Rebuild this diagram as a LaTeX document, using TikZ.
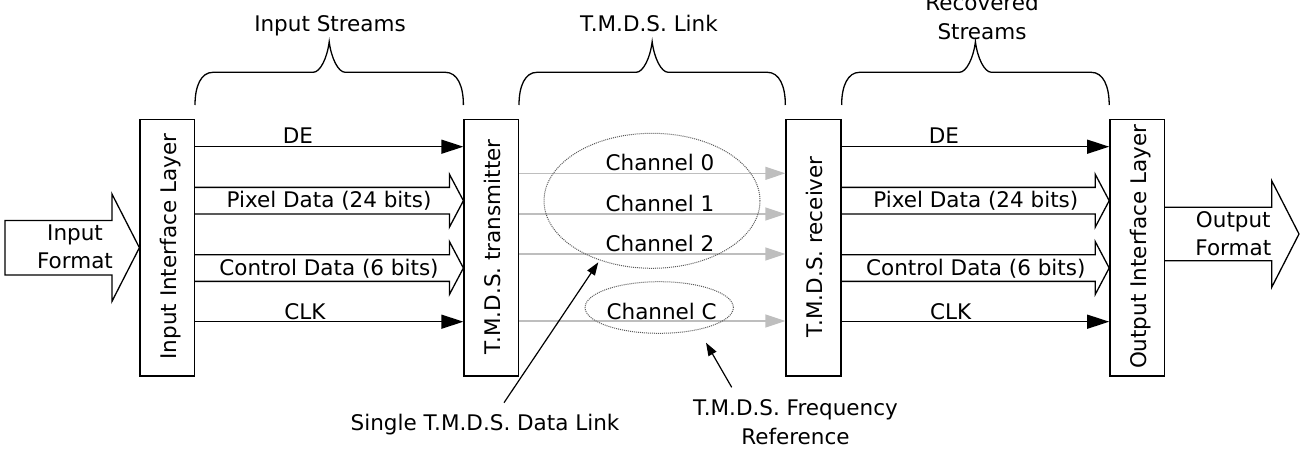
\documentclass[tikz,border=0pt]{standalone}
\usepackage{fontspec}
\setmainfont{DejaVu Sans}
\usetikzlibrary{arrows.meta,calc,shapes.geometric}
\definecolor{chgray}{RGB}{190,190,190}
\definecolor{ellgray}{RGB}{90,90,90}
\newcommand\fatarr[2]{%
  \draw[fatline] ($(#1)+(0,-13.35)$) -- ($(#2)+(-14,-13.35)$) -- ($(#2)+(-14,-26.5)$) -- (#2)
    -- ($(#2)+(-14,26.5)$) -- ($(#2)+(-14,13.35)$) -- ($(#1)+(0,13.35)$);}
\newcommand\bracebetween[2]{%
  \coordinate (bm) at ($(#1)!0.5!(#2)$);
  \draw[braceline] (#1) .. controls ($(#1)+(0,-19)$) and ($(#1)+(6,-32.7)$) .. ($(#1)+(18,-32.7)$)
    -- ($(bm)+(-16,-32.7)$) .. controls ($(bm)+(-9,-32.7)$) and ($(bm)+(-2,-47)$) .. ($(bm)+(0,-63.3)$)
    .. controls ($(bm)+(2,-47)$) and ($(bm)+(9,-32.7)$) .. ($(bm)+(16,-32.7)$)
    -- ($(#2)+(-18,-32.7)$) .. controls ($(#2)+(-6,-32.7)$) and ($(#2)+(0,-19)$) .. (#2);}
\begin{document}
\begin{tikzpicture}[x=1pt,y=-1pt,
  font=\fontsize{21.5}{28.5}\selectfont,
  layerbox/.style={draw, line width=1.3pt, minimum width=54.3pt, minimum height=256.7pt, inner sep=0pt},
  vtext/.style={rotate=90, anchor=base, inner sep=0pt},
  lbl/.style={inner sep=0pt, anchor=base},
  mlbl/.style={inner sep=0pt, align=center},
  dataarr/.style={line width=1.3pt, -{Triangle[length=22pt,width=14pt]}},
  chanarr/.style={line width=1.3pt, chgray, -{Triangle[length=20pt,width=13pt]}},
  fatline/.style={line width=1.3pt, line join=miter},
  braceline/.style={line width=1.3pt},
  ell/.style={ellipse, draw=ellgray, line width=1pt, dash pattern=on 1pt off 1pt, inner sep=0pt},
  notearr/.style={line width=1.2pt, -{Triangle[length=13pt,width=9pt]}}
]
\useasboundingbox (0,0) rectangle (1302,458);
\clip (0,0) rectangle (1302,458);

% layer boxes
\node[layerbox] (inL) at (167.2,247.7) {};
\node[layerbox] (tx) at (491.2,247.7) {};
\node[layerbox, minimum width=55pt] (rx) at (813.5,247.7) {};
\node[layerbox] (outL) at (1137,247.7) {};
\node[vtext] (inLt) at ($(inL.center)+(9,-1)$) {Input Interface Layer};
\node[vtext] (txt) at ($(tx.center)+(9,-1)$) {T.M.D.S. transmitter};
\node[vtext] (rxt) at ($(rx.center)+(9,-1)$) {T.M.D.S. receiver};
\node[vtext] (outLt) at ($(outL.center)+(9,-1)$) {Output Interface Layer};

% input format arrow
\coordinate (infL) at (5,247.7);
\draw[fatline] ($(infL)+(0,-27.2)$) -- ($(inL.west)+(-27.5,-27.2)$) -- ($(inL.west)+(-27.5,-53.8)$)
  -- (inL.west) -- ($(inL.west)+(-27.5,53.8)$) -- ($(inL.west)+(-27.5,27.2)$) -- ($(infL)+(0,27.2)$) -- cycle;
\node[mlbl] (inF) at (75,246.8) {Input\\Format};

% output format arrow
\coordinate (outTip) at (1299,234);
\draw[fatline] (outL.east |- 0,207.2) -- ($(outTip)+(-27.3,-26.8)$) -- ($(outTip)+(-27.3,-53.3)$)
  -- (outTip) -- ($(outTip)+(-27.3,53.3)$) -- ($(outTip)+(-27.3,26.8)$) -- (outL.east |- 0,260.8);
\node[mlbl] (outF) at (1233.3,233.8) {Output\\Format};

% input streams
\draw[dataarr] (inL.east |- 0,146.7) -- (tx.west |- 0,146.7);
\node[lbl] (de1) at (298,143.3) {DE};
\coordinate (px1a) at (inL.east |- 0,200.7);
\coordinate (px1b) at (tx.west |- 0,200.7);
\fatarr{px1a}{px1b}
\node[lbl] (px1) at (329,207.3) {Pixel Data (24 bits)};
\coordinate (cd1a) at (inL.east |- 0,268);
\coordinate (cd1b) at (tx.west |- 0,268);
\fatarr{cd1a}{cd1b}
\node[lbl] (cd1) at (329,275.7) {Control Data (6 bits)};
\draw[dataarr] (inL.east |- 0,321.7) -- (tx.west |- 0,321.7);
\node[lbl] (clk1) at (305,319) {CLK};

% TMDS channels
\draw[chanarr] (tx.east |- 0,173.3) -- (rx.west |- 0,173.3);
\draw[chanarr] (tx.east |- 0,214) -- (rx.west |- 0,214);
\draw[chanarr] (tx.east |- 0,254) -- (rx.west |- 0,254);
\draw[chanarr] (tx.east |- 0,321) -- (rx.west |- 0,321);
\node[ell, minimum width=216pt, minimum height=135pt] (big) at (652,200.8) {};
\node[ell, minimum width=148.3pt, minimum height=51.6pt] (small) at (659.2,307.5) {};
\node[lbl] (ch0) at (660,170.7) {Channel 0};
\node[lbl] (ch1) at (660,211) {Channel 1};
\node[lbl] (ch2) at (660,251.7) {Channel 2};
\node[lbl] (chc) at (661.7,319) {Channel C};

% recovered streams
\draw[dataarr] (rx.east |- 0,146.7) -- (outL.west |- 0,146.7);
\node[lbl] (de2) at (944,143.3) {DE};
\coordinate (px2a) at (rx.east |- 0,200.7);
\coordinate (px2b) at (outL.west |- 0,200.7);
\fatarr{px2a}{px2b}
\node[lbl] (px2) at (975.8,207.3) {Pixel Data (24 bits)};
\coordinate (cd2a) at (rx.east |- 0,268);
\coordinate (cd2b) at (outL.west |- 0,268);
\fatarr{cd2a}{cd2b}
\node[lbl] (cd2) at (975.8,275.7) {Control Data (6 bits)};
\draw[dataarr] (rx.east |- 0,321.7) -- (outL.west |- 0,321.7);
\node[lbl] (clk2) at (950.7,319) {CLK};

% braces
\coordinate (b1L) at (inL.east |- 0,105);
\coordinate (b1R) at (tx.west |- 0,105);
\bracebetween{b1L}{b1R}
\coordinate (b2L) at (tx.east |- 0,105);
\coordinate (b2R) at (rx.west |- 0,105);
\bracebetween{b2L}{b2R}
\coordinate (b3L) at (rx.east |- 0,105);
\coordinate (b3R) at (outL.west |- 0,105);
\bracebetween{b3L}{b3R}
\node[lbl] (isl) at (330,31) {Input Streams};
\node[lbl] (tll) at (649,31) {T.M.D.S. Link};
\node[mlbl] (rsl) at (982,17.1) {Recovered\\Streams};

% annotations
\node[lbl] (sgl) at (485,430) {Single T.M.D.S. Data Link};
\node[mlbl] (frq) at (795.5,422.3) {T.M.D.S. Frequency\\Reference};
\coordinate (sglTail) at (504,402.7);
\coordinate (sglTip) at (598.3,262.3);
\coordinate (frqTail) at (731.7,387.3);
\coordinate (frqTip) at (706,342.7);
\draw[notearr] (sglTail) -- (sglTip);
\draw[notearr] (frqTail) -- (frqTip);
\end{tikzpicture}
\end{document}
